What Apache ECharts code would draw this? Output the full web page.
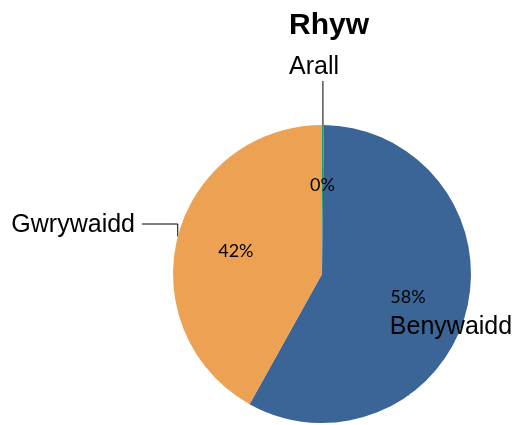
<!DOCTYPE html>
<html>
<head>
<meta charset="utf-8">
<script src="https://cdn.jsdelivr.net/npm/echarts@6/dist/echarts.min.js"></script>
<style>
  html, body { margin: 0; padding: 0; background: #fff; }
  #main { width: 520px; height: 425px; }
</style>
</head>
<body>
<div id="main"></div>
<script>
// data
var categories = ['Arall', 'Benywaidd', 'Gwrywaidd'];
var values = [0.2, 58, 42];
var colors = ['#1F9E74', '#3A6596', '#EDA153'];

// where the category names sit (text only)
var labelSpots = [
  { x: 314, y: 67, align: 'center' },
  { x: 451, y: 327, align: 'center' },
  { x: 135, y: 225, align: 'right' }
];

var myChart = echarts.init(document.getElementById('main'));

var option = {
  animation: false,
  title: {
    text: 'Rhyw',
    left: 284,
    top: 6,
    textStyle: { fontFamily: 'Liberation Sans', fontWeight: 'bold', fontSize: 30, color: '#000' }
  },
  series: [
    {
      type: 'pie',
      center: [322, 274],
      radius: [0, 149],
      startAngle: 90,
      clockwise: true,
      avoidLabelOverlap: false,
      data: categories.map(function (name, i) {
        var d = { name: name, value: values[i], itemStyle: { color: colors[i] } };
        if (name === 'Benywaidd') d.label = { position: 'inside' };
        return d;
      }),
      label: {
        show: true,
        position: 'outside',
        formatter: '{b}',
        fontFamily: 'Liberation Sans',
        fontSize: 25,
        color: '#000'
      },
      labelLine: { show: true, lineStyle: { color: '#000', width: 1 } },
      labelLayout: function (p) {
        var s = labelSpots[p.dataIndex];
        var out = { x: s.x, y: s.y, align: s.align, verticalAlign: 'middle' };
        var p0 = p.labelLinePoints && p.labelLinePoints[0];
        if (p0 && p.dataIndex === 0) {
          out.labelLinePoints = [p0, [p0[0], s.y + 14], [p0[0], s.y + 14]];
        } else if (p0 && p.dataIndex === 2) {
          out.labelLinePoints = [p0, [p0[0], s.y - 1], [s.x + 7, s.y - 1]];
        }
        return out;
      }
    },
    {
      // see-through copy, only for the percent labels
      type: 'pie',
      silent: true,
      center: [322, 274],
      radius: [0, 172],
      startAngle: 90,
      clockwise: true,
      percentPrecision: 0,
      data: categories.map(function (name, i) {
        return { name: name, value: values[i] };
      }),
      itemStyle: { color: 'rgba(0,0,0,0)' },
      label: {
        show: true,
        position: 'inside',
        formatter: '{d}%',
        fontFamily: 'Lato',
        fontSize: 18,
        color: '#000'
      },
      labelLine: { show: false }
    }
  ]
};
myChart.setOption(option);
</script>
</body>
</html>
